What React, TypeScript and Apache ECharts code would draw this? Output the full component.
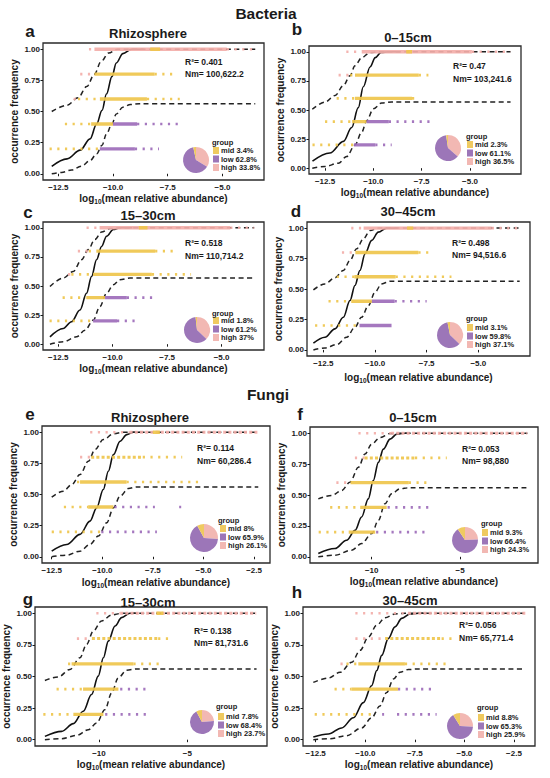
import React, { useEffect, useRef } from "react";
import * as echarts from "echarts";

const FONT = '"Liberation Sans", Arial, Helvetica, sans-serif';

// ---------- data ----------
type Row = [number, number, number, string, string]; // y, x0, x1, group, density

const fitA = [[-12.8,0.06],[-12.1,0.12],[-11.5,0.19],[-11.05,0.28],[-10.75,0.4],[-10.5,0.51],[-10.3,0.64],[-10.05,0.78],[-9.85,0.89],[-9.55,0.965],[-9.15,1.0],[-8.6,1.0]];
const upperA = [[-12.8,0.5],[-12.1,0.55],[-11.6,0.61],[-11.2,0.7],[-10.85,0.8],[-10.55,0.9],[-10.2,0.97],[-9.8,1.0],[-3.5,1.0]];
const lowerA = [[-12.8,0],[-12.35,0.01],[-11.9,0.03],[-11.45,0.06],[-11.05,0.105],[-10.75,0.16],[-10.5,0.23],[-10.3,0.32],[-10.05,0.4],[-9.85,0.48],[-9.55,0.535],[-9.2,0.556],[-8.8,0.563],[-3.5,0.563]];
const rowsA: Row[] = [
  [1,-11.1,-10.85,"high","s"],[1,-10.85,-4.8,"high","d"],[1,-4.8,-3.5,"high","s"],[1,-8.3,-7.85,"mid","d"],
  [0.8,-11.5,-10.85,"high","s"],[0.8,-10.85,-8.1,"mid","d"],[0.8,-8.1,-7.1,"mid","s"],
  [0.6,-11.8,-11.6,"high","s"],[0.6,-11.6,-10.6,"mid","s"],[0.6,-10.6,-8.45,"mid","d"],[0.6,-8.45,-6.95,"mid","s"],
  [0.4,-12.2,-11.0,"mid","s"],[0.4,-11.0,-10.0,"mid","d"],[0.4,-10.0,-8.9,"low","d"],[0.4,-8.9,-6.8,"low","s"],
  [0.2,-12.9,-10.6,"mid","s"],[0.2,-10.6,-9.0,"low","d"],[0.2,-9.0,-7.9,"low","s"],
];

const fitB = [[-13.15,0.06],[-12.25,0.13],[-11.55,0.23],[-11.12,0.35],[-10.78,0.52],[-10.52,0.7],[-10.17,0.87],[-9.9,0.95],[-9.6,0.995],[-9.2,1.0],[-8.6,1.0]];
const upperB = [[-13.16,0.506],[-12.5,0.568],[-11.98,0.625],[-11.55,0.71],[-11.21,0.795],[-10.95,0.88],[-10.6,0.95],[-10.17,0.994],[-9.74,1.0],[-2.9,1.0]];
const lowerB = [[-13.16,0],[-12.5,0.014],[-11.81,0.043],[-11.38,0.1],[-10.95,0.2],[-10.6,0.31],[-10.34,0.41],[-10.0,0.51],[-9.57,0.56],[-9.05,0.568],[-2.9,0.568]];
const rowsB: Row[] = [
  [1,-11.4,-10.6,"high","s"],[1,-10.6,-4.9,"high","d"],[1,-4.9,-2.9,"high","s"],[1,-8.3,-8.0,"mid","d"],
  [0.8,-11.8,-11.2,"high","s"],[0.8,-11.2,-10.95,"mid","s"],[0.8,-10.95,-7.65,"mid","d"],[0.8,-7.65,-7.15,"mid","s"],
  [0.6,-11.9,-10.95,"mid","s"],[0.6,-10.95,-8.0,"mid","d"],[0.6,-8.0,-7.8,"mid","s"],
  [0.4,-12.5,-11.1,"mid","s"],[0.4,-11.1,-10.35,"mid","d"],[0.4,-10.35,-9.2,"low","d"],[0.4,-9.2,-7.0,"low","s"],
  [0.2,-13.15,-11.0,"mid","s"],[0.2,-11.0,-9.9,"low","d"],[0.2,-9.9,-9.05,"low","s"],
];

const fitC = [[-12.88,0.063],[-12.27,0.135],[-11.89,0.193],[-11.5,0.294],[-11.2,0.438],[-10.97,0.582],[-10.74,0.726],[-10.51,0.84],[-10.28,0.928],[-9.97,0.986],[-9.67,1.0],[-9.1,1.0]];
const upperC = [[-12.88,0.496],[-12.27,0.568],[-11.81,0.625],[-11.43,0.726],[-11.12,0.813],[-10.82,0.9],[-10.51,0.963],[-10.13,0.994],[-9.67,1.0],[-3.5,1.0]];
const lowerC = [[-12.88,0],[-12.27,0.02],[-11.66,0.063],[-11.27,0.12],[-10.89,0.207],[-10.59,0.323],[-10.28,0.438],[-9.97,0.51],[-9.67,0.553],[-9.21,0.568],[-3.5,0.568]];
const rowsC: Row[] = [
  [1,-11.2,-10.6,"high","s"],[1,-10.6,-4.6,"high","d"],[1,-4.6,-3.5,"high","s"],[1,-8.8,-8.4,"mid","d"],
  [0.8,-11.6,-11.1,"high","s"],[0.8,-11.1,-10.75,"mid","s"],[0.8,-10.75,-8.05,"mid","d"],[0.8,-8.05,-7.2,"mid","s"],
  [0.6,-12.05,-11.9,"high","s"],[0.6,-11.9,-10.9,"mid","s"],[0.6,-10.9,-8.2,"mid","d"],[0.6,-8.2,-6.4,"mid","s"],
  [0.4,-12.3,-11.2,"mid","s"],[0.4,-11.2,-10.35,"mid","d"],[0.4,-10.35,-9.35,"low","d"],[0.4,-9.35,-8.05,"low","s"],
  [0.2,-12.9,-10.9,"mid","s"],[0.2,-10.9,-9.8,"low","d"],[0.2,-9.8,-8.9,"low","s"],
];

const fitD = [[-12.98,0.055],[-12.42,0.104],[-11.94,0.173],[-11.53,0.268],[-11.21,0.405],[-10.97,0.529],[-10.73,0.652],[-10.48,0.789],[-10.16,0.899],[-9.84,0.967],[-9.44,1.0],[-8.9,1.0]];
const upperD = [[-12.98,0.493],[-12.42,0.542],[-11.94,0.592],[-11.53,0.652],[-11.21,0.734],[-10.89,0.83],[-10.56,0.912],[-10.24,0.98],[-9.84,1.0],[-3.0,1.0]];
const lowerD = [[-12.98,0],[-12.42,0.016],[-11.85,0.044],[-11.37,0.104],[-10.97,0.186],[-10.65,0.268],[-10.32,0.364],[-10.0,0.474],[-9.68,0.542],[-9.27,0.564],[-3.0,0.564]];
const rowsD: Row[] = [
  [1,-11.15,-10.55,"high","s"],[1,-10.55,-4.35,"high","d"],[1,-4.35,-3.0,"high","s"],[1,-8.45,-8.15,"mid","d"],
  [0.8,-11.6,-10.95,"high","s"],[0.8,-10.95,-7.9,"mid","d"],[0.8,-7.9,-7.2,"mid","s"],
  [0.6,-11.85,-11.0,"mid","s"],[0.6,-11.0,-9.0,"mid","d"],[0.6,-9.0,-6.3,"mid","s"],
  [0.4,-12.25,-11.15,"mid","s"],[0.4,-11.15,-10.15,"mid","d"],[0.4,-10.15,-9.05,"low","d"],[0.4,-9.05,-7.5,"low","s"],
  [0.2,-12.9,-10.75,"mid","s"],[0.2,-10.75,-9.2,"low","d"],
];

const fitE = [[-12.5,0.045],[-11.76,0.099],[-11.1,0.18],[-10.61,0.286],[-10.28,0.393],[-9.95,0.54],[-9.7,0.687],[-9.45,0.82],[-9.12,0.928],[-8.79,0.981],[-8.46,1.0],[-8.0,1.0]];
const upperE = [[-12.5,0.479],[-11.92,0.527],[-11.51,0.58],[-11.1,0.66],[-10.69,0.767],[-10.36,0.861],[-9.95,0.941],[-9.45,0.987],[-8.96,1.0],[-2.29,1.0]];
const lowerE = [[-12.5,0],[-11.76,0.013],[-11.1,0.045],[-10.61,0.099],[-10.19,0.166],[-9.78,0.273],[-9.45,0.393],[-9.12,0.487],[-8.71,0.548],[-8.3,0.561],[-2.29,0.561]];
const rowsE: Row[] = [
  [1,-10.6,-8.65,"high","s"],[1,-8.65,-2.3,"high","m"],[1,-7.5,-7.15,"mid","d"],
  [0.8,-11.1,-10.55,"high","s"],[0.8,-10.55,-8.0,"mid","m"],[0.8,-8.0,-6.05,"mid","s"],
  [0.6,-11.25,-11.1,"mid","s"],[0.6,-11.1,-8.8,"mid","d"],[0.6,-8.8,-5.1,"mid","s"],
  [0.4,-11.9,-10.7,"mid","s"],[0.4,-10.7,-9.45,"mid","d"],[0.4,-9.4,-7.4,"low","s"],[0.4,-6.2,-6.1,"low","s"],
  [0.2,-12.5,-10.05,"mid","s"],[0.2,-10.05,-7.3,"low","s"],
];

const fitF = [[-13.02,0.027],[-12.08,0.067],[-11.42,0.134],[-10.94,0.214],[-10.57,0.322],[-10.19,0.469],[-9.91,0.617],[-9.62,0.764],[-9.34,0.871],[-8.96,0.952],[-8.58,0.992],[-8.21,1.0],[-7.8,1.0]];
const upperF = [[-13.02,0.469],[-12.26,0.496],[-11.7,0.536],[-11.23,0.603],[-10.75,0.724],[-10.38,0.831],[-10.0,0.912],[-9.53,0.965],[-8.96,0.997],[-8.49,1.0],[-1.19,1.0]];
const lowerF = [[-13.02,0],[-12.08,0.013],[-11.13,0.054],[-10.57,0.107],[-10.0,0.188],[-9.62,0.295],[-9.25,0.429],[-8.87,0.51],[-8.4,0.55],[-7.92,0.558],[-1.19,0.558]];
const rowsF: Row[] = [
  [1,-10.75,-8.9,"high","s"],[1,-8.9,-1.2,"high","m"],
  [0.8,-10.95,-10.4,"high","s"],[0.8,-10.4,-7.55,"mid","m"],[0.8,-7.55,-5.75,"mid","s"],
  [0.6,-12.0,-11.2,"high","s"],[0.6,-11.2,-7.9,"mid","d"],[0.6,-7.9,-6.6,"mid","s"],
  [0.4,-12.35,-10.65,"mid","s"],[0.4,-10.65,-9.15,"mid","d"],[0.4,-9.1,-6.6,"low","s"],
  [0.2,-13.0,-11.3,"mid","s"],[0.2,-11.3,-9.8,"mid","d"],[0.2,-9.75,-6.8,"low","s"],
];

const fitG = [[-13.06,0.026],[-12.11,0.066],[-11.45,0.127],[-10.89,0.225],[-10.42,0.357],[-10.04,0.503],[-9.75,0.648],[-9.47,0.78],[-9.09,0.9],[-8.72,0.966],[-8.25,1.0],[-7.8,1.0]];
const upperG = [[-13.06,0.468],[-12.3,0.497],[-11.64,0.556],[-11.08,0.648],[-10.7,0.754],[-10.32,0.86],[-9.85,0.94],[-9.28,0.987],[-8.72,1.0],[-1.08,1.0]];
const lowerG = [[-13.06,0],[-12.11,0.008],[-11.26,0.034],[-10.6,0.079],[-10.13,0.132],[-9.66,0.238],[-9.28,0.37],[-8.91,0.489],[-8.43,0.55],[-7.87,0.56],[-1.08,0.56]];
const rowsG: Row[] = [
  [1,-10.15,-8.8,"high","s"],[1,-8.8,-1.1,"high","m"],[1,-6.75,-6.35,"mid","d"],
  [0.8,-11.25,-10.4,"high","s"],[0.8,-10.4,-6.65,"mid","m"],[0.8,-6.65,-5.8,"mid","s"],
  [0.6,-11.75,-11.55,"mid","s"],[0.6,-11.55,-8.05,"mid","d"],[0.6,-8.05,-6.55,"mid","s"],
  [0.4,-12.4,-10.9,"mid","s"],[0.4,-10.9,-8.9,"mid","d"],[0.4,-8.8,-7.1,"low","s"],
  [0.2,-13.15,-11.45,"mid","s"],[0.2,-11.45,-9.75,"mid","d"],[0.2,-9.65,-7.1,"low","s"],
];

const fitH = [[-12.62,0.021],[-11.86,0.045],[-11.19,0.093],[-10.6,0.173],[-10.1,0.293],[-9.68,0.427],[-9.42,0.547],[-9.17,0.667],[-8.84,0.8],[-8.5,0.893],[-8.16,0.96],[-7.74,0.995],[-7.32,1.0],[-6.9,1.0]];
const upperH = [[-12.62,0.453],[-11.86,0.488],[-11.27,0.533],[-10.68,0.613],[-10.26,0.707],[-9.84,0.813],[-9.42,0.907],[-9.0,0.965],[-8.5,0.995],[-7.99,1.0],[-2.0,1.0]];
const lowerH = [[-12.62,0],[-11.78,0.008],[-10.94,0.032],[-10.18,0.093],[-9.68,0.173],[-9.26,0.267],[-8.92,0.373],[-8.58,0.48],[-8.25,0.533],[-7.83,0.555],[-7.32,0.56],[-2.0,0.56]];
const rowsH: Row[] = [
  [1,-10.5,-7.85,"high","s"],[1,-7.85,-1.9,"high","m"],
  [0.8,-10.5,-9.0,"high","s"],[0.8,-9.0,-6.15,"mid","m"],[0.8,-6.15,-5.4,"mid","s"],
  [0.6,-11.25,-10.95,"high","s"],[0.6,-10.95,-10.35,"mid","s"],[0.6,-10.35,-8.0,"mid","d"],[0.6,-8.0,-5.8,"mid","s"],
  [0.4,-11.55,-10.7,"mid","s"],[0.4,-10.7,-8.35,"mid","d"],[0.4,-8.35,-6.5,"low","s"],
  [0.2,-12.55,-9.5,"mid","s"],[0.2,-9.15,-9.05,"low","s"],[0.2,-8.4,-6.4,"low","s"],
];

const panelTitles = ["Rhizosphere","0–15cm","15–30cm","30–45cm","Rhizosphere","0–15cm","15–30cm","30–45cm"];
const panelLetters = ["a","b","c","d","e","f","g","h"];
const r2Values = ["0.401","0.47","0.518","0.498","0.114","0.053","0.138","0.056"];
const nmValues = ["100,622.2","103,241.6","110,714.2","94,516.6","60,286.4","98,880","81,731.6","65,771.4"];
const midPct = [3.4,2.3,1.8,3.1,8,9.3,7.8,8.8];
const lowPct = [62.8,61.1,61.2,59.8,65.9,66.4,68.4,65.3];
const highPct = [33.8,36.5,37,37.1,26.1,24.3,23.7,25.9];
const yTicks = [0,0.25,0.5,0.75,1];
const ticksAD = [-12.5,-10,-7.5,-5];
const ticksEH = [-12.5,-10,-7.5,-5,-2.5];
const ticksFG = [-10,-5];

const fits = [fitA,fitB,fitC,fitD,fitE,fitF,fitG,fitH];
const uppers = [upperA,upperB,upperC,upperD,upperE,upperF,upperG,upperH];
const lowers = [lowerA,lowerB,lowerC,lowerD,lowerE,lowerF,lowerG,lowerH];
const rowsAll = [rowsA,rowsB,rowsC,rowsD,rowsE,rowsF,rowsG,rowsH];

// ---------- layout ----------
const layouts = [
  {grid:[43,43,221,137], xr:[-13.2,-3.1], ticks:ticksAD, dec:1, title:[148,33], letter:[30,31], stat:[185,62,74], pie:[196,160,13], group:[212,142], leg:[213,146.5], xGap:11},
  {grid:[309,46,212,128], xr:[-13.33,-2.36], ticks:ticksAD, dec:1, title:[408,37], letter:[297,29], stat:[453,66,79], pie:[448,148,13], group:[466,136], leg:[467,140.5], xGap:12},
  {grid:[43,222,221,128], xr:[-13.2,-3.05], ticks:ticksAD, dec:1, title:[148,215], letter:[28,212], stat:[185,243,256], pie:[197,330,13], group:[212,313], leg:[213,316.5], xGap:11},
  {grid:[307,222,223,134], xr:[-13.29,-2.5], ticks:ticksAD, dec:1, title:[408,211], letter:[296,211], stat:[452,243,255], pie:[450,335,13], group:[466,318], leg:[467,323.5], xGap:15},
  {grid:[42,426,228,137], xr:[-12.98,-1.71], ticks:ticksEH, dec:1, title:[150,417], letter:[30,414], stat:[197,448,461], pie:[204,538,14], group:[218,520], leg:[220,524.5], xGap:13},
  {grid:[310,427,228,136], xr:[-13.49,-0.59], ticks:ticksFG, dec:0, title:[413,417], letter:[300,414], stat:[462,449,461], pie:[465,540,13], group:[481,523], leg:[482,528.5], xGap:11},
  {grid:[35,607,232,139], xr:[-13.62,-0.49], ticks:ticksFG, dec:0, title:[148,602], letter:[28,599], stat:[194,631,643], pie:[202,722,12], group:[216,706], leg:[218,712.5], xGap:11},
  {grid:[303,607,232,139], xr:[-13.14,-1.44], ticks:ticksEH, dec:1, title:[410,600], letter:[297,592], stat:[459,625,638], pie:[460,726,13], group:[477,707], leg:[478,713.5], xGap:11},
];

const PT: Record<string,string> = { high: "#F3AEA9", mid: "#EFC54C", low: "#9D6DBA" };
const PIE: Record<string,string> = { high: "#F2B8B3", mid: "#EFCA60", low: "#9C76B8" };
const INK = "#1a1a1a";

function fmtTick(v: number, dec: number) {
  const s = Math.abs(v).toFixed(dec);
  return (v < 0 ? "\u2212" : "") + s;
}

function txt(x: number, y: number, text: string, size: number, align = "center", vAlign = "middle", weight = "bold") {
  return {
    type: "text", x, y, silent: true, z: 10,
    style: { text, fontSize: size, fontWeight: weight, fontFamily: FONT, fill: INK,
      align, verticalAlign: vAlign, textAlign: align, textVerticalAlign: vAlign },
  };
}

function buildOption() {
  const grid: any[] = [], xAxis: any[] = [], yAxis: any[] = [], series: any[] = [], legend: any[] = [], graphic: any[] = [];
  graphic.push(txt(266, 13, "Bacteria", 15.5));
  graphic.push(txt(268, 394, "Fungi", 15.5));
  layouts.forEach((L, i) => {
    grid.push({ left: L.grid[0], top: L.grid[1], width: L.grid[2], height: L.grid[3], show: true,
      borderColor: "#2a2a2a", borderWidth: 1.3, backgroundColor: "transparent", containLabel: false, outerBoundsMode: "none" });
    xAxis.push({ gridIndex: i, type: "value", min: L.xr[0], max: L.xr[1],
      axisLine: { show: false }, splitLine: { show: false },
      axisTick: { show: true, length: 2.5, customValues: L.ticks, lineStyle: { color: INK, width: 1 } },
      axisLabel: { customValues: L.ticks, formatter: (v: number) => fmtTick(v, L.dec), fontSize: 8, fontWeight: "bold", color: INK, fontFamily: FONT, margin: 3 },
      name: "log{sub|10}(mean relative abundance)", nameLocation: "middle", nameGap: L.xGap,
      nameTextStyle: { fontSize: 10, fontWeight: "bold", color: INK, fontFamily: FONT, lineHeight: 13,
        rich: { sub: { fontSize: 6.5, fontWeight: "bold", color: INK, fontFamily: FONT, verticalAlign: "bottom", lineHeight: 8 } } },
    });
    yAxis.push({ gridIndex: i, type: "value", min: -0.05, max: 1.05,
      axisLine: { show: false }, splitLine: { show: false },
      axisTick: { show: true, length: 2.5, customValues: yTicks, lineStyle: { color: INK, width: 1 } },
      axisLabel: { customValues: yTicks, formatter: (v: number) => v.toFixed(2), fontSize: 8, fontWeight: "bold", color: INK, fontFamily: FONT, margin: 3 },
      name: "occurrence frequency", nameLocation: "middle", nameGap: 24,
      nameTextStyle: { fontSize: 10, fontWeight: "bold", color: INK, fontFamily: FONT },
    });
    const base = { xAxisIndex: i, yAxisIndex: i, type: "line", symbol: "none", silent: true, animation: false };
    series.push({ ...base, data: fits[i], smooth: 0.35, smoothMonotone: "x", z: 2, lineStyle: { color: "#111", width: 1.6 } });
    series.push({ ...base, data: uppers[i], smooth: 0.35, smoothMonotone: "x", z: 2, lineStyle: { color: "#222", width: 1.5, type: [5, 3.5] } });
    series.push({ ...base, data: lowers[i], smooth: 0.35, smoothMonotone: "x", z: 2, lineStyle: { color: "#222", width: 1.5, type: [5, 3.5] } });
    rowsAll[i].forEach((r) => {
      const [y, x0, x1, g, d] = r;
      const st = d === "d" ? { width: 3.4, type: "solid" } : d === "m" ? { width: 3, type: [3, 2.2] } : { width: 2.6, type: [2.2, 5.5] };
      series.push({ ...base, data: [[x0, y], [x1, y]], z: 3,
        lineStyle: { color: PT[g], width: st.width, type: st.type, cap: "butt", opacity: 0.92 } });
    });
    const names = [`mid ${midPct[i]}%`, `low ${lowPct[i]}%`, `high ${highPct[i]}%`];
    series.push({ type: "pie", name: "pie" + i, center: [L.pie[0], L.pie[1]], radius: L.pie[2], startAngle: 90, clockwise: true,
      silent: true, animation: false, label: { show: false }, labelLine: { show: false }, z: 5,
      itemStyle: { borderWidth: 0 },
      data: [
        { name: names[2], value: highPct[i], itemStyle: { color: PIE.high } },
        { name: names[1], value: lowPct[i], itemStyle: { color: PIE.low } },
        { name: names[0], value: midPct[i], itemStyle: { color: PIE.mid } },
      ] });
    legend.push({ data: names, orient: "vertical", left: L.leg[0], top: L.leg[1], itemWidth: 6, itemHeight: 7, itemGap: 0.5,
      padding: 0, icon: "rect", selectedMode: false, itemStyle: { borderWidth: 0 },
      textStyle: { fontSize: 7.5, fontWeight: "bold", color: INK, fontFamily: FONT, lineHeight: 8, padding: [0, 0, 0, -3] } });
    graphic.push(txt(L.group[0], L.group[1], "group", 7.5, "left"));
    graphic.push(txt(L.title[0], L.title[1], panelTitles[i], 13));
    graphic.push(txt(L.letter[0], L.letter[1], panelLetters[i], 17));
    graphic.push(txt(L.stat[0], L.stat[1], `R\u00b2= ${r2Values[i]}`, 8.5, "left"));
    graphic.push(txt(L.stat[0], L.stat[2], `Nm= ${nmValues[i]}`, 8.5, "left"));
  });
  return { animation: false, backgroundColor: "#ffffff", textStyle: { fontFamily: FONT }, grid, xAxis, yAxis, series, legend, graphic };
}

export default function App() {
  const ref = useRef<HTMLDivElement>(null);
  useEffect(() => {
    if (!ref.current) return;
    const chart = echarts.init(ref.current, null, { renderer: "svg" });
    chart.setOption(buildOption() as any);
    return () => chart.dispose();
  }, []);
  return <div ref={ref} style={{ position: "absolute", left: 0, top: 0, width: 550, height: 778 }} />;
}
